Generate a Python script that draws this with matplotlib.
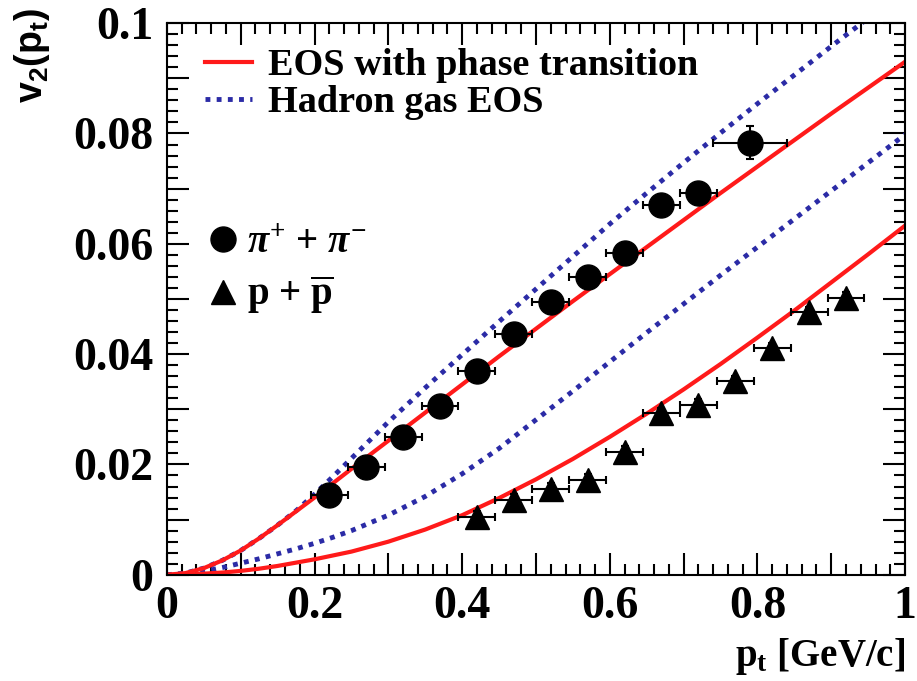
import numpy as np
import matplotlib
matplotlib.use('Agg')
import matplotlib.pyplot as plt
from matplotlib.lines import Line2D
from matplotlib.ticker import MultipleLocator, FuncFormatter

plt.rcParams['font.family'] = 'Liberation Serif'
plt.rcParams['font.weight'] = 'bold'
plt.rcParams['axes.labelweight'] = 'bold'
plt.rcParams['mathtext.fontset'] = 'custom'
plt.rcParams['mathtext.rm'] = 'Liberation Serif:bold'
plt.rcParams['mathtext.it'] = 'Liberation Serif:italic:bold'
plt.rcParams['mathtext.bf'] = 'Liberation Serif:bold'
plt.rcParams['mathtext.sf'] = 'Liberation Sans:bold'

# data points
pion_pt = [0.22, 0.27, 0.32, 0.37, 0.42, 0.47, 0.52, 0.57, 0.62, 0.67, 0.72, 0.79]
pion_v2 = [0.0145, 0.0196, 0.025, 0.0306, 0.037, 0.0437, 0.0495, 0.054, 0.0583, 0.067, 0.0692, 0.0783]
pion_xerr = [0.025] * 11 + [0.05]
pion_yerr = [0.001] * 11 + [0.003]

proton_pt = [0.42, 0.47, 0.52, 0.57, 0.62, 0.67, 0.72, 0.77, 0.82, 0.87, 0.92]
proton_v2 = [0.0105, 0.0136, 0.0156, 0.0172, 0.0223, 0.0293, 0.0308, 0.0351, 0.0411, 0.0476, 0.0502]
proton_xerr = [0.025] * 11
proton_yerr = [0.001] * 11

# hydro curves
curve_pt = [0, 0.025, 0.05, 0.075, 0.1, 0.125, 0.15, 0.175, 0.2, 0.225, 0.25,
            0.3, 0.35, 0.4, 0.45, 0.5, 0.55, 0.6, 0.65, 0.7, 0.75, 0.8, 0.85, 0.9, 0.95, 1.0]
pion_pt_eos = [0, 0.0003, 0.0012, 0.0026, 0.0044, 0.0066, 0.009, 0.0115, 0.014, 0.0166, 0.0192,
               0.0243, 0.0294, 0.0345, 0.0396, 0.0446, 0.0496, 0.0545, 0.0594, 0.0643, 0.0692,
               0.074, 0.0788, 0.0836, 0.0883, 0.093]
pion_hg_eos = [0, 0.0003, 0.0012, 0.0026, 0.0044, 0.0066, 0.009, 0.0116, 0.0146, 0.0178, 0.0211,
               0.0277, 0.0339, 0.0399, 0.0459, 0.0518, 0.0577, 0.0636, 0.0692, 0.0747, 0.0801,
               0.0854, 0.0906, 0.0958, 0.1009, 0.106]
proton_pt_eos = [0, 0.0, 0.0002, 0.0004, 0.0007, 0.0011, 0.0016, 0.0022, 0.0028, 0.0035, 0.0042,
                 0.006, 0.0082, 0.0108, 0.0139, 0.0173, 0.021, 0.025, 0.0292, 0.0336, 0.0382,
                 0.043, 0.0479, 0.053, 0.0581, 0.0633]
proton_hg_eos = [0, 0.0001, 0.0006, 0.0013, 0.0021, 0.0029, 0.0038, 0.0047, 0.0057, 0.0068, 0.008,
                 0.0108, 0.0142, 0.0183, 0.0229, 0.0281, 0.0333, 0.0386, 0.0439, 0.0491, 0.0543,
                 0.0594, 0.0645, 0.0696, 0.0747, 0.0798]

red = '#ff1a1a'
blue = '#2b2ba6'
dots = (0, (1, 1.3))

fig = plt.figure(figsize=(9.17, 6.81), dpi=100)
ax = fig.add_axes([0.182, 0.156, 0.805, 0.81])

ax.plot(curve_pt, pion_hg_eos, color=blue, lw=3.5, ls=dots)
ax.plot(curve_pt, proton_hg_eos, color=blue, lw=3.5, ls=dots)
ax.plot(curve_pt, pion_pt_eos, color=red, lw=3)
ax.plot(curve_pt, proton_pt_eos, color=red, lw=3)

ax.errorbar(pion_pt, pion_v2, xerr=pion_xerr, yerr=pion_yerr, fmt='o', color='black',
            ms=18, elinewidth=1.5, capsize=3, capthick=1.5)
ax.errorbar(proton_pt, proton_v2, xerr=proton_xerr, yerr=proton_yerr, fmt='^', color='black',
            ms=17, elinewidth=1.5, capsize=3, capthick=1.5)

ax.set_xlim(0, 1)
ax.set_ylim(0, 0.1)
ax.xaxis.set_major_locator(MultipleLocator(0.1))
ax.xaxis.set_minor_locator(MultipleLocator(0.02))
ax.yaxis.set_major_locator(MultipleLocator(0.01))
ax.yaxis.set_minor_locator(MultipleLocator(0.002))


def xfmt(v, pos):
    k = int(round(v * 10))
    if k % 2:
        return ''
    if k == 0:
        return '0'
    if k == 10:
        return '1'
    return '%.1f' % v


def yfmt(v, pos):
    k = int(round(v * 100))
    if k % 2:
        return ''
    if k == 0:
        return '0'
    if k == 10:
        return '0.1'
    return '%.2f' % v


ax.xaxis.set_major_formatter(FuncFormatter(xfmt))
ax.yaxis.set_major_formatter(FuncFormatter(yfmt))
ax.tick_params(which='both', direction='in', top=True, right=True, width=1.5, labelsize=33)
ax.tick_params(which='major', length=16)
ax.tick_params(which='minor', length=8)
ax.tick_params(axis='x', pad=8)
ax.tick_params(axis='y', pad=10)
for s in ax.spines.values():
    s.set_linewidth(1.5)

ax.set_xlabel(r'p$_\mathrm{t}$ [GeV/c]', fontsize=28, ha='right', x=1.0, labelpad=6)
ax.set_ylabel(r'$\mathsf{v_2(p_t)}$', fontsize=27, ha='right')
ax.yaxis.set_label_coords(-0.156, 1.027)

h1 = [Line2D([], [], color=red, lw=3), Line2D([], [], color=blue, lw=3.5, ls=dots)]
leg1 = ax.legend(h1, ['EOS with phase transition', 'Hadron gas EOS'], loc='upper left',
                 bbox_to_anchor=(0.051, 0.955), frameon=False, fontsize=27.5, handlelength=1.23,
                 handletextpad=0.42, labelspacing=0.05, borderaxespad=0, borderpad=0)
ax.add_artist(leg1)
h2 = [Line2D([], [], color='black', marker='o', ls='', ms=18),
      Line2D([], [], color='black', marker='^', ls='', ms=17)]
ax.legend(h2, [r'$\pi^{+}$ + $\pi^{-}$', r'p + $\overline{\mathrm{p}}$'], loc='upper left',
          bbox_to_anchor=(0.049, 0.634), frameon=False, fontsize=28, handlelength=1.0,
          handletextpad=0.13, labelspacing=0.3, borderaxespad=0, borderpad=0)

fig.savefig('out.png', dpi=100)
